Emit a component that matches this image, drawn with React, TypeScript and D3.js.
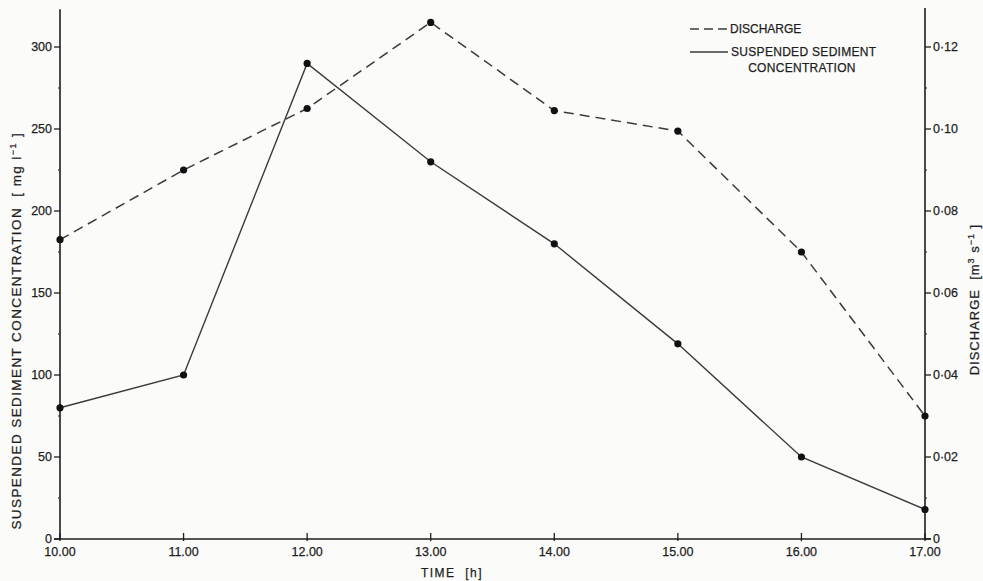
import React, { useEffect, useRef } from 'react';
import * as d3 from 'd3';

const hours = [10, 11, 12, 13, 14, 15, 16, 17];
const hourLabels = ['10.00', '11.00', '12.00', '13.00', '14.00', '15.00', '16.00', '17.00'];
const sediment = [80, 100, 290, 230, 180, 119, 50, 18];
const discharge = [0.073, 0.090, 0.105, 0.126, 0.1045, 0.0995, 0.070, 0.030];
const leftTicks = [0, 50, 100, 150, 200, 250, 300];
const rightTicks = [0, 0.02, 0.04, 0.06, 0.08, 0.10, 0.12];

const FONT = '"Liberation Sans", Arial, Helvetica, sans-serif';
const INK = '#1e1e1e';

function App() {
  const ref = useRef<SVGSVGElement | null>(null);

  function drawChart() {
    const svg = d3.select(ref.current);
    svg.selectAll('*').remove();

    const x = d3.scaleLinear().domain([10, 17]).range([60, 925]);
    const yL = d3.scaleLinear().domain([0, 300]).range([539, 47]);
    const yR = d3.scaleLinear().domain([0, 0.12]).range([539, 47]);

    const txt = (sel: any, size: number) => sel
      .attr('font-family', FONT).attr('font-size', size).attr('fill', INK)
      .attr('stroke', INK).attr('stroke-width', 0.25);

    // axis lines
    svg.append('line')
      .attr('x1', x(10)).attr('x2', x(10))
      .attr('y1', yL(0)).attr('y2', yL(323))
      .attr('stroke', INK).attr('stroke-width', 1.6);
    svg.append('line')
      .attr('x1', x(17)).attr('x2', x(17))
      .attr('y1', yL(0)).attr('y2', yR(0.1295))
      .attr('stroke', INK).attr('stroke-width', 1.6);
    svg.append('line')
      .attr('x1', x(10) - 6).attr('x2', x(17) + 6)
      .attr('y1', yL(0)).attr('y2', yL(0))
      .attr('stroke', INK).attr('stroke-width', 1.6);

    // left ticks
    const gl = svg.append('g');
    gl.selectAll('line.major').data(leftTicks).join('line')
      .attr('x1', x(10) - 6).attr('x2', x(10))
      .attr('y1', d => yL(d)).attr('y2', d => yL(d))
      .attr('stroke', INK).attr('stroke-width', 1.3);
    gl.selectAll('line.minor').data(d3.range(25, 325, 50)).join('line')
      .attr('x1', x(10) - 2).attr('x2', x(10))
      .attr('y1', d => yL(d)).attr('y2', d => yL(d))
      .attr('stroke', INK).attr('stroke-width', 1.2);
    txt(gl.selectAll('text').data(leftTicks).join('text')
      .attr('x', x(10) - 8).attr('y', d => yL(d))
      .attr('dy', '0.35em')
      .attr('text-anchor', 'end'), 12.5)
      .text(d => d);

    // right ticks
    const gr = svg.append('g');
    gr.selectAll('line.major').data(rightTicks).join('line')
      .attr('x1', x(17)).attr('x2', x(17) + 6)
      .attr('y1', d => yR(d)).attr('y2', d => yR(d))
      .attr('stroke', INK).attr('stroke-width', 1.3);
    gr.selectAll('line.minor').data(d3.range(0.01, 0.13, 0.02)).join('line')
      .attr('x1', x(17)).attr('x2', x(17) + 2)
      .attr('y1', d => yR(d)).attr('y2', d => yR(d))
      .attr('stroke', INK).attr('stroke-width', 1.2);
    txt(gr.selectAll('text').data(rightTicks).join('text')
      .attr('x', x(17) + 8).attr('y', d => yR(d))
      .attr('dy', '0.35em'), 12.5)
      .text(d => d === 0 ? '0' : d3.format('.2f')(d).replace('.', '·'));

    // bottom ticks
    const gb = svg.append('g');
    gb.selectAll('line').data(hours).join('line')
      .attr('x1', d => x(d)).attr('x2', d => x(d))
      .attr('y1', yL(0) - 6).attr('y2', yL(0) + 2)
      .attr('stroke', INK).attr('stroke-width', 1.3);
    txt(gb.selectAll('text').data(hours).join('text')
      .attr('x', d => x(d)).attr('y', yL(0) + 17)
      .attr('text-anchor', 'middle'), 12.5)
      .text((d, i) => hourLabels[i]);

    // axis titles
    const lt = txt(svg.append('text')
      .attr('transform', `translate(21,${yL(127)}) rotate(-90)`)
      .attr('text-anchor', 'middle')
      .attr('letter-spacing', 1.4)
      .attr('xml:space', 'preserve'), 13.5);
    lt.append('tspan').text('SUSPENDED SEDIMENT CONCENTRATION  [ mg l');
    lt.append('tspan').attr('dy', -5).attr('font-size', 9).text('−1');
    lt.append('tspan').attr('dy', 5).text(' ]');

    const rt = txt(svg.append('text')
      .attr('transform', `translate(979,${yR(0.0584)}) rotate(-90)`)
      .attr('text-anchor', 'middle')
      .attr('letter-spacing', 1)
      .attr('xml:space', 'preserve'), 13);
    rt.append('tspan').text('DISCHARGE  [m');
    rt.append('tspan').attr('dy', -5).attr('font-size', 9).text('3');
    rt.append('tspan').attr('dy', 5).text(' s');
    rt.append('tspan').attr('dy', -5).attr('font-size', 9).text('−1');
    rt.append('tspan').attr('dy', 5).text(' ]');

    txt(svg.append('text')
      .attr('x', 452).attr('y', 577)
      .attr('text-anchor', 'middle')
      .attr('letter-spacing', 1.5)
      .attr('xml:space', 'preserve'), 12)
      .text('TIME  [h]');

    // lines
    const lineL = d3.line<number>().x((d, i) => x(hours[i])).y(d => yL(d));
    const lineR = d3.line<number>().x((d, i) => x(hours[i])).y(d => yR(d));

    svg.append('path')
      .datum(discharge)
      .attr('d', lineR)
      .attr('fill', 'none').attr('stroke', '#3a3a3a').attr('stroke-width', 1.5)
      .attr('stroke-dasharray', '10,6');
    svg.append('path')
      .datum(sediment)
      .attr('d', lineL)
      .attr('fill', 'none').attr('stroke', '#3a3a3a').attr('stroke-width', 1.4);

    svg.append('g').selectAll('circle').data(discharge).join('circle')
      .attr('cx', (d, i) => x(hours[i])).attr('cy', d => yR(d))
      .attr('r', 3.6).attr('fill', '#111');
    svg.append('g').selectAll('circle').data(sediment).join('circle')
      .attr('cx', (d, i) => x(hours[i])).attr('cy', d => yL(d))
      .attr('r', 3.6).attr('fill', '#111');

    // legend
    const lg = svg.append('g');
    lg.append('line')
      .attr('x1', 690).attr('x2', 727).attr('y1', 29).attr('y2', 29)
      .attr('stroke', '#3a3a3a').attr('stroke-width', 1.5).attr('stroke-dasharray', '9,5');
    txt(lg.append('text')
      .attr('x', 730).attr('y', 33), 12)
      .text('DISCHARGE');
    lg.append('line')
      .attr('x1', 690).attr('x2', 728).attr('y1', 52).attr('y2', 52)
      .attr('stroke', '#3a3a3a').attr('stroke-width', 1.4);
    txt(lg.append('text')
      .attr('x', 731).attr('y', 56)
      .attr('letter-spacing', 0.3), 12)
      .text('SUSPENDED SEDIMENT');
    txt(lg.append('text')
      .attr('x', 802).attr('y', 72)
      .attr('text-anchor', 'middle')
      .attr('letter-spacing', 0.3), 12)
      .text('CONCENTRATION');
  }

  useEffect(() => {
    if (sediment.length > 0) {
      drawChart();
    }
  }, []);

  return (
    <svg
      ref={ref}
      width={983}
      height={581}
      style={{ position: 'absolute', left: 0, top: 0, background: '#fbfbfa' }}
    />
  );
}

export default App;
